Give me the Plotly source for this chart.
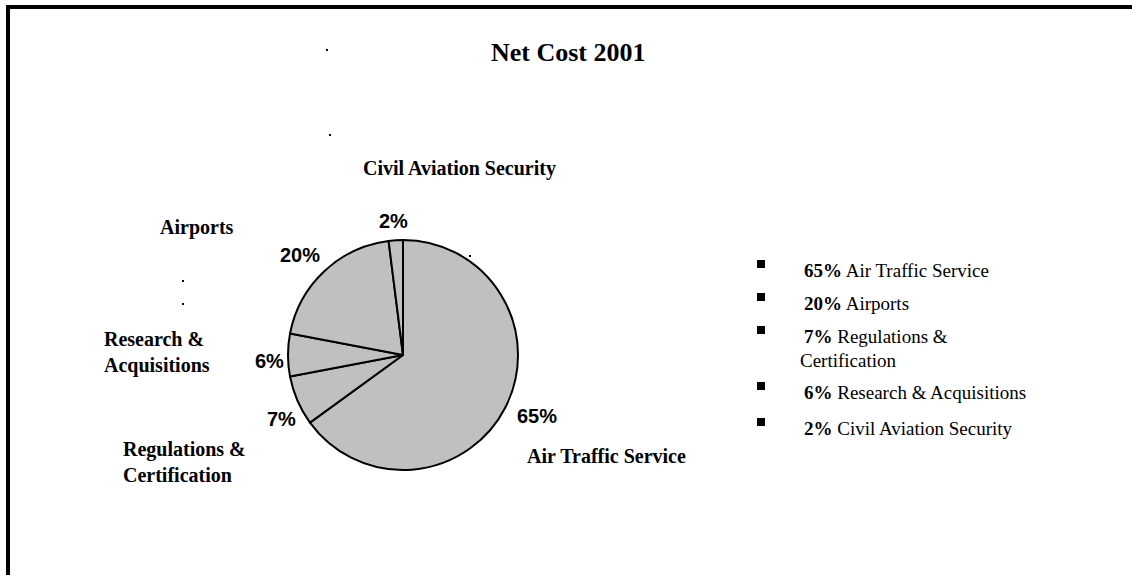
import plotly.graph_objects as go

# Net cost shares, 2001 (percent), listed clockwise from 12 o'clock
categories = [
    "Air Traffic Service",
    "Regulations & Certification",
    "Research & Acquisitions",
    "Airports",
    "Civil Aviation Security",
]
shares = [65, 7, 6, 20, 2]

# Callout names drawn around the pie
callout_text = {
    "Air Traffic Service": "Air Traffic Service",
    "Regulations & Certification": "Regulations &<br>Certification",
    "Research & Acquisitions": "Research &<br>Acquisitions",
    "Airports": "Airports",
    "Civil Aviation Security": "Civil Aviation Security",
}
# Names used in the bullet list on the right
list_text = {
    "Air Traffic Service": "Air Traffic Service",
    "Regulations & Certification": "Regulations &<br>Certification",
    "Research & Acquisitions": "Research & Acquisitions",
    "Airports": "Airports",
    "Civil Aviation Security": "Civil Aviation Security",
}
title_text = "Net Cost 2001"

W, H = 1132, 575
SERIF = "Liberation Serif, Times New Roman, serif"
SANS = "Liberation Sans, Arial, sans-serif"

# pie placement (pixels)
cx, cy, rad = 403, 355, 115

fig = go.Figure()
fig.add_trace(go.Pie(
    labels=categories,
    values=shares,
    sort=False,
    direction="clockwise",
    rotation=0,
    marker=dict(colors=["#c0c0c0"] * len(shares), line=dict(color="black", width=2)),
    textinfo="none",
    showlegend=False,
    hoverinfo="label+percent",
    domain=dict(x=[(cx - rad) / W, (cx + rad) / W],
                y=[(H - cy - rad) / H, (H - cy + rad) / H]),
))

annotations = []
# title
annotations.append(dict(x=568, y=52, text=f"<b>{title_text}</b>", showarrow=False,
                        xanchor="center", yanchor="middle",
                        font=dict(family=SERIF, size=26, color="black")))

# percentage labels just outside each slice (label centre, pixels)
pct_pos = {
    "Civil Aviation Security": (393, 221),
    "Airports": (300, 255),
    "Research & Acquisitions": (269, 361),
    "Regulations & Certification": (281, 419),
    "Air Traffic Service": (537, 416),
}
total = sum(shares)
for name, v in zip(categories, shares):
    x, y = pct_pos[name]
    annotations.append(dict(x=x, y=y, text=f"<b>{round(100 * v / total)}%</b>", showarrow=False,
                            xanchor="center", yanchor="middle",
                            font=dict(family=SANS, size=20, color="black")))

# category callouts: (x, y, xanchor)
callout_pos = {
    "Civil Aviation Security": (459, 168, "center"),
    "Airports": (197, 227, "center"),
    "Research & Acquisitions": (102, 352, "left"),
    "Regulations & Certification": (121, 462, "left"),
    "Air Traffic Service": (525, 456, "left"),
}
for name in categories:
    x, y, xa = callout_pos[name]
    annotations.append(dict(x=x, y=y, text=f"<b>{callout_text[name]}</b>", showarrow=False,
                            xanchor=xa, yanchor="middle", align="left",
                            font=dict(family=SERIF, size=20, color="black")))

# bullet list, largest share first
order = sorted(range(len(shares)), key=lambda i: -shares[i])
row_y = [270, 303, 336, 392, 428]
shapes = []
for row, i in enumerate(order):
    name = categories[i]
    lines = list_text[name].split("<br>")
    y0 = row_y[row]
    annotations.append(dict(x=802, y=y0, text=f"<b>{shares[i]}%</b> {lines[0]}", showarrow=False,
                            xanchor="left", yanchor="middle",
                            font=dict(family=SERIF, size=19, color="black")))
    for k, extra in enumerate(lines[1:], start=1):
        annotations.append(dict(x=798, y=y0 + 24 * k, text=extra, showarrow=False,
                                xanchor="left", yanchor="middle",
                                font=dict(family=SERIF, size=19, color="black")))
    shapes.append(dict(type="rect", xref="x", yref="y", x0=757, x1=765, y0=y0 - 10, y1=y0 - 2,
                       fillcolor="black", line=dict(width=0)))

# frame around the slide area
shapes.append(dict(type="rect", xref="x", yref="y", x0=6, x1=W + 5, y0=5, y1=9,
                   fillcolor="black", line=dict(width=0)))
shapes.append(dict(type="rect", xref="x", yref="y", x0=6, x1=10, y0=5, y1=H + 5,
                   fillcolor="black", line=dict(width=0)))

# small stray specks on the page
for sx, sy in [(327, 50), (330, 135), (183, 281), (183, 304), (470, 256)]:
    shapes.append(dict(type="rect", xref="x", yref="y", x0=sx - 1, x1=sx + 1, y0=sy - 1, y1=sy + 1,
                       fillcolor="black", line=dict(width=0)))

fig.update_layout(
    width=W, height=H,
    margin=dict(l=0, r=0, t=0, b=0),
    paper_bgcolor="white", plot_bgcolor="rgba(0,0,0,0)",
    xaxis=dict(range=[0, W], visible=False, fixedrange=True),
    yaxis=dict(range=[H, 0], visible=False, fixedrange=True),
    annotations=annotations,
    shapes=shapes,
)

fig.write_html("out.html")
